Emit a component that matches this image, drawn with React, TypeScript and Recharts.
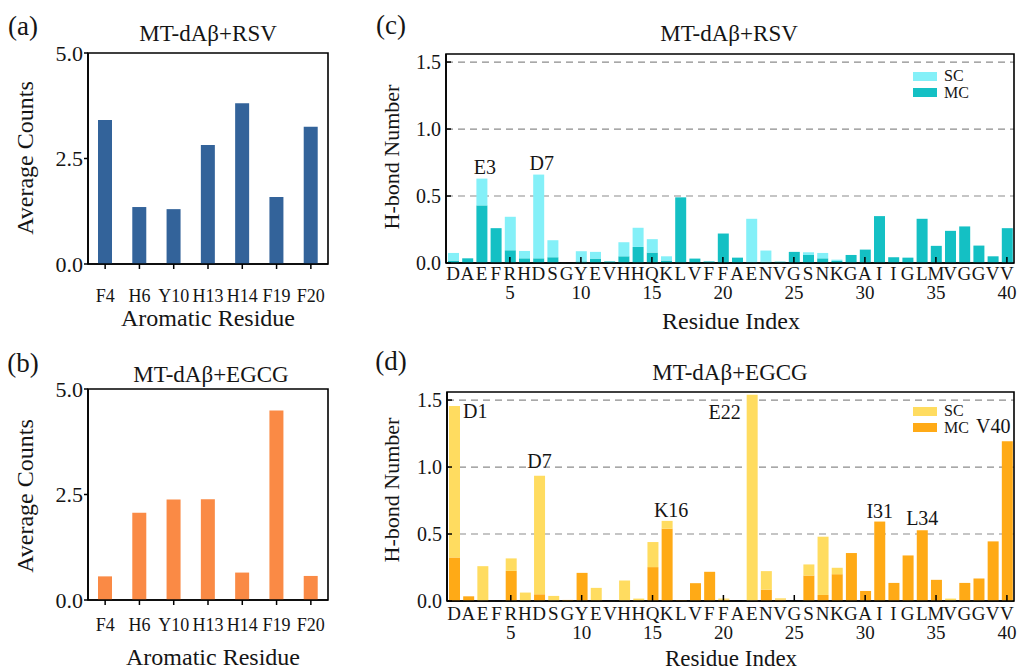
import React from 'react';
import { BarChart, Bar, XAxis, YAxis, CartesianGrid, Legend, LabelList, ReferenceArea } from 'recharts';

const FONT = '"Liberation Serif", "Times New Roman", serif';
const INK = '#151515';

// ---------- data ----------
const aromaticResidues = ['F4', 'H6', 'Y10', 'H13', 'H14', 'F19', 'F20'];
const rsvAromaticCounts = [3.41, 1.35, 1.3, 2.82, 3.81, 1.59, 3.25];
const egcgAromaticCounts = [0.56, 2.07, 2.38, 2.39, 0.65, 4.49, 0.57];
const aromaticTicks = [0, 2.5, 5];

const residueLetters = [
  'D', 'A', 'E', 'F', 'R', 'H', 'D', 'S', 'G', 'Y',
  'E', 'V', 'H', 'H', 'Q', 'K', 'L', 'V', 'F', 'F',
  'A', 'E', 'N', 'V', 'G', 'S', 'N', 'K', 'G', 'A',
  'I', 'I', 'G', 'L', 'M', 'V', 'G', 'G', 'V', 'V',
];
const residueNumberTicks = [5, 10, 15, 20, 25, 30, 35, 40];
const hbondTicks = [0, 0.5, 1.0, 1.5];

const rsvMC = [
  0.018, 0.035, 0.43, 0.26, 0.095, 0.035, 0.035, 0.043, 0, 0.012,
  0.033, 0.012, 0.05, 0.12, 0.078, 0.018, 0.49, 0.033, 0.012, 0.22,
  0.04, 0.005, 0.01, 0.01, 0.083, 0.06, 0.035, 0.015, 0.06, 0.1,
  0.35, 0.043, 0.04, 0.33, 0.128, 0.24, 0.273, 0.13, 0.05, 0.26,
];
const rsvSC = [
  0.057, 0, 0.2, 0, 0.25, 0.055, 0.625, 0.127, 0, 0.076,
  0.05, 0, 0.105, 0.143, 0.1, 0.032, 0, 0, 0, 0,
  0, 0.325, 0.083, 0, 0, 0.02, 0.04, 0.01, 0, 0,
  0, 0, 0, 0, 0, 0, 0, 0, 0, 0,
];
const egcgMC = [
  0.325, 0.035, 0, 0, 0.225, 0, 0.05, 0, 0.008, 0.21,
  0.005, 0, 0, 0, 0.253, 0.54, 0.005, 0.133, 0.218, 0.01,
  0, 0, 0.085, 0.01, 0, 0.19, 0.045, 0.2, 0.358, 0.075,
  0.593, 0.135, 0.34, 0.528, 0.158, 0, 0.135, 0.168, 0.445, 1.193,
];
const egcgSC = [
  1.13, 0, 0.26, 0, 0.093, 0.063, 0.885, 0.038, 0, 0,
  0.093, 0, 0.153, 0.018, 0.187, 0.058, 0, 0, 0, 0.008,
  0, 1.54, 0.138, 0.01, 0, 0.083, 0.435, 0.048, 0, 0,
  0, 0, 0, 0, 0, 0.018, 0, 0, 0, 0,
];
const rsvNotes = ['E3', 'D7'];
const egcgNotes = ['D1', 'D7', 'K16', 'E22', 'I31', 'L34', 'V40'];

// ---------- derived tables ----------
const aromaticData = aromaticResidues.map((r, i) => ({
  residue: r,
  rsv: rsvAromaticCounts[i],
  egcg: egcgAromaticCounts[i],
}));

const buildHbond = (mc: number[], sc: number[], notes: string[]) =>
  residueLetters.map((l, i) => {
    const note = notes.find((n) => parseInt(n.slice(1), 10) === i + 1);
    return {
      idx: i + 1,
      letter: l,
      MC: mc[i],
      SC: sc[i],
      // the label sits on whichever segment forms the top of the stack
      noteSC: sc[i] > 0 ? note : undefined,
      noteMC: sc[i] > 0 ? undefined : note,
    };
  });

const rsvData = buildHbond(rsvMC, rsvSC, rsvNotes);
const egcgData = buildHbond(egcgMC, egcgSC, egcgNotes);

// ---------- styling ----------
const COLORS = {
  rsvBar: '#33639A',
  egcgBar: '#FA8A45',
  rsvSC: '#84F0F8',
  rsvMC: '#14C0C4',
  egcgSC: '#FFDC60',
  egcgMC: '#FFAA16',
};
const AXIS = { stroke: '#000', strokeWidth: 1.6 };
const LEGEND_ORDER = ['SC', 'MC'];

type NoteStyle = { anchor?: 'start' | 'middle' | 'end'; dx?: number; dy?: number };
const rsvNoteStyle: Record<string, NoteStyle> = {
  E3: { dx: 3, dy: -5 },
  D7: { dx: 3, dy: -5 },
};
const egcgNoteStyle: Record<string, NoteStyle> = {
  D1: { anchor: 'start', dx: 3, dy: 12 },
  D7: { dy: -8 },
  K16: { dx: 4, dy: -4 },
  E22: { anchor: 'end', dx: -6, dy: 24 },
  I31: { dy: -4 },
  L34: { dy: -5 },
  V40: { dx: -14, dy: -8 },
};

const makeNote = (styles: Record<string, NoteStyle>) => (props: any) => {
  const { x, y, width, value } = props;
  if (!value) return null;
  const s = styles[value] || {};
  const anchor = s.anchor || 'middle';
  const dx = s.dx || 0;
  const dy = s.dy === undefined ? -5 : s.dy;
  let tx = Number(x) + Number(width) / 2 + dx;
  if (anchor === 'start') tx = Number(x) + Number(width) + dx;
  if (anchor === 'end') tx = Number(x) + dx;
  return (
    <text x={tx} y={Number(y) + dy} textAnchor={anchor} fontSize={20} fontFamily={FONT} fill={INK}>
      {value}
    </text>
  );
};

const ResidueTick = (props: any) => {
  const { x, y, payload, letterDy, numberDy } = props;
  const idx = Number(payload.value);
  const letter = residueLetters[idx - 1];
  const major = residueNumberTicks.includes(idx);
  return (
    <g>
      <text x={x} y={y + letterDy} textAnchor="middle" fontSize={19} fontFamily={FONT} fill={INK}>
        {letter}
      </text>
      {major && (
        <text x={x} y={y + numberDy} textAnchor="middle" fontSize={19} fontFamily={FONT} fill={INK}>
          {idx}
        </text>
      )}
      {major && <line x1={x} x2={x} y1={y} y2={y - 6} stroke="#000" strokeWidth={1.5} />}
    </g>
  );
};

const HbondYTick = (props: any) => {
  const { x, y, payload } = props;
  return (
    <g>
      <text x={x} y={y} dy="0.35em" textAnchor="end" fontSize={20} fontFamily={FONT} fill={INK}>
        {Number(payload.value).toFixed(1)}
      </text>
      <line x1={x + 5} x2={x + 10} y1={y} y2={y} stroke="#000" strokeWidth={1.5} />
    </g>
  );
};

const renderLegend = (props: any) => {
  const items = [...(props.payload || [])].sort(
    (a: any, b: any) => LEGEND_ORDER.indexOf(a.value) - LEGEND_ORDER.indexOf(b.value)
  );
  return (
    <div>
      {items.map((it: any) => (
        <div key={it.value} style={{ display: 'flex', alignItems: 'center', height: 16.5 }}>
          <span style={{ display: 'inline-block', width: 24, height: 9, background: it.color, marginRight: 7 }} />
          <span style={{ fontSize: 16, fontFamily: FONT, lineHeight: 1, color: INK }}>{it.value}</span>
        </div>
      ))}
    </div>
  );
};

const Txt = ({ x, y, size, rotate, children }: any) => (
  <div
    style={{
      position: 'absolute',
      left: x,
      top: y,
      transform: `translate(-50%, -50%)${rotate ? ' rotate(-90deg)' : ''}`,
      fontSize: size,
      fontFamily: FONT,
      lineHeight: 1,
      whiteSpace: 'nowrap',
      color: INK,
    }}
  >
    {children}
  </div>
);

const AromaticChart = ({ dataKey, color, top, plotTop, tickMargin }: any) => (
  <div style={{ position: 'absolute', left: 0, top }}>
    <BarChart
      width={340}
      height={plotTop + 211 + 60}
      data={aromaticData}
      margin={{ top: plotTop, right: 12, bottom: 0, left: 38 }}
      barSize={14}
    >
      <XAxis
        dataKey="residue"
        interval={0}
        height={60}
        axisLine={AXIS}
        tickLine={{ stroke: '#000', strokeWidth: 1.5 }}
        tickSize={5}
        tickMargin={tickMargin}
        tick={{ fontSize: 18, fontFamily: FONT, fill: INK }}
      />
      <YAxis
        domain={[0, 5]}
        ticks={aromaticTicks}
        width={50}
        axisLine={AXIS}
        tickLine={{ stroke: '#000', strokeWidth: 1.5 }}
        tickSize={4}
        tickMargin={1}
        tickFormatter={(v: number) => v.toFixed(1)}
        tick={{ fontSize: 22, fontFamily: FONT, fill: INK }}
      />
      <Bar dataKey={dataKey} fill={color} isAnimationActive={false} />
      <ReferenceArea y1={0} y2={5} fill="none" stroke="#000" strokeWidth={1.6} ifOverflow="visible" />
    </BarChart>
  </div>
);

const HbondChart = ({ data, top, plotTop, marginLeft, colors, noteStyles, legendTop, letterDy, numberDy }: any) => (
  <div style={{ position: 'absolute', left: 360, top }}>
    <BarChart
      width={657}
      height={plotTop + 209 + 60}
      data={data}
      margin={{ top: plotTop, right: 3, bottom: 0, left: marginLeft }}
      barSize={11}
    >
      <CartesianGrid vertical={false} syncWithTicks stroke="#8c8c8c" strokeDasharray="7 5" strokeWidth={1.2} />
      <XAxis
        dataKey="idx"
        interval={0}
        height={60}
        axisLine={AXIS}
        tickLine={false}
        tickSize={0}
        tickMargin={0}
        tick={(p: any) => <ResidueTick {...p} letterDy={letterDy} numberDy={numberDy} />}
      />
      <YAxis
        domain={[0, 1.56]}
        ticks={hbondTicks}
        allowDataOverflow
        width={60}
        axisLine={AXIS}
        tickLine={false}
        tickSize={0}
        tickMargin={5}
        tick={(p: any) => <HbondYTick {...p} />}
      />
      <Bar dataKey="MC" name="MC" stackId="hb" fill={colors.mc} isAnimationActive={false}>
        <LabelList dataKey="noteMC" content={makeNote(noteStyles)} />
      </Bar>
      <Bar dataKey="SC" name="SC" stackId="hb" fill={colors.sc} isAnimationActive={false}>
        <LabelList dataKey="noteSC" content={makeNote(noteStyles)} />
      </Bar>
      <ReferenceArea y1={0} y2={1.56} fill="none" stroke="#000" strokeWidth={1.6} ifOverflow="visible" />
      <Legend
        layout="vertical"
        align="center"
        verticalAlign="middle"
        content={renderLegend}
        wrapperStyle={{ left: 553, top: legendTop, width: 'auto' }}
      />
    </BarChart>
  </div>
);

export default function App() {
  return (
    <div style={{ position: 'absolute', left: 0, top: 0, width: 1017, height: 670, background: '#fff', overflow: 'hidden' }}>
      {/* panel (a) */}
      <AromaticChart dataKey="rsv" color={COLORS.rsvBar} top={0} plotTop={53} tickMargin={20} />
      {/* panel (b) */}
      <AromaticChart dataKey="egcg" color={COLORS.egcgBar} top={320} plotTop={69} tickMargin={13} />
      {/* panel (c) */}
      <HbondChart
        data={rsvData}
        top={0}
        plotTop={54}
        marginLeft={26}
        colors={{ mc: COLORS.rsvMC, sc: COLORS.rsvSC }}
        noteStyles={rsvNoteStyle}
        legendTop={68}
        letterDy={17}
        numberDy={36}
      />
      {/* panel (d) */}
      <HbondChart
        data={egcgData}
        top={330}
        plotTop={62}
        marginLeft={27}
        colors={{ mc: COLORS.egcgMC, sc: COLORS.egcgSC }}
        noteStyles={egcgNoteStyle}
        legendTop={73}
        letterDy={19}
        numberDy={38}
      />

      <Txt x={23} y={26} size={27}>(a)</Txt>
      <Txt x={208} y={33} size={23}>MT-dAβ+RSV</Txt>
      <Txt x={25} y={158} size={24} rotate>Average Counts</Txt>
      <Txt x={208} y={318} size={24}>Aromatic Residue</Txt>

      <Txt x={23} y={363} size={27}>(b)</Txt>
      <Txt x={211} y={374} size={23}>MT-dAβ+EGCG</Txt>
      <Txt x={25} y={496} size={24} rotate>Average Counts</Txt>
      <Txt x={213} y={657} size={24}>Aromatic Residue</Txt>

      <Txt x={391} y={25} size={27}>(c)</Txt>
      <Txt x={729} y={33} size={23}>MT-dAβ+RSV</Txt>
      <Txt x={392} y={157} size={22} rotate>H-bond Number</Txt>
      <Txt x={731} y={321} size={24}>Residue Index</Txt>

      <Txt x={391} y={361} size={27}>(d)</Txt>
      <Txt x={730} y={372} size={23}>MT-dAβ+EGCG</Txt>
      <Txt x={392} y={490} size={22} rotate>H-bond Number</Txt>
      <Txt x={731} y={658} size={23}>Residue Index</Txt>
    </div>
  );
}
